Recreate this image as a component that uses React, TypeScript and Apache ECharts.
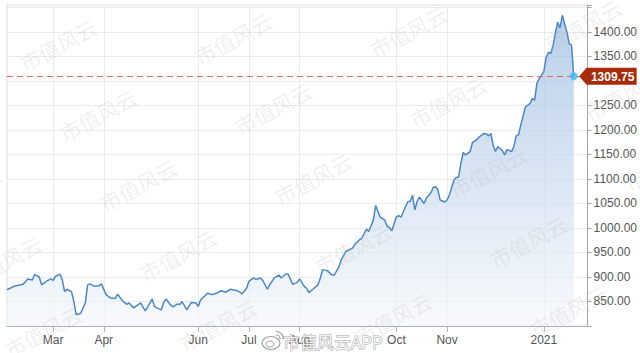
import React, { useEffect, useRef } from 'react';
import * as echarts from 'echarts';

// Trading calendar (US market) used for the category axis
const AXIS_START = '2020-01-31';
const AXIS_END = '2021-02-01';
const HOLIDAYS = ['2020-02-17', '2020-04-10', '2020-05-25', '2020-07-03', '2020-09-07', '2020-11-26', '2020-12-25', '2021-01-01', '2021-01-18'];

// Month ticks on the x axis
const monthTickDates = ['2020-03-02', '2020-04-01', '2020-06-01', '2020-07-01', '2020-08-03', '2020-10-01', '2020-11-02', '2021-01-04'];
const monthTickLabels = ['Mar', 'Apr', 'Jun', 'Jul', 'Aug', 'Oct', 'Nov', '2021'];

// Labelled y ticks (1300 sits under the last-price tag)
const yTickLabels = [850, 900, 950, 1000, 1050, 1100, 1150, 1200, 1250, 1350, 1400];

// Price series
const priceDates = [
  '2020-01-31', '2020-02-05', '2020-02-11', '2020-02-13', '2020-02-18', '2020-02-19', '2020-02-21', '2020-02-24', '2020-02-26', '2020-02-28',
  '2020-03-02', '2020-03-03', '2020-03-05', '2020-03-06', '2020-03-09', '2020-03-10', '2020-03-12', '2020-03-13', '2020-03-16', '2020-03-18', '2020-03-20', '2020-03-23', '2020-03-24', '2020-03-26', '2020-03-30', '2020-03-31',
  '2020-04-02', '2020-04-06', '2020-04-08', '2020-04-09', '2020-04-14', '2020-04-16', '2020-04-17', '2020-04-21', '2020-04-24', '2020-04-28',
  '2020-05-01', '2020-05-04', '2020-05-05', '2020-05-07', '2020-05-08', '2020-05-11', '2020-05-13', '2020-05-14', '2020-05-18', '2020-05-19', '2020-05-20', '2020-05-22', '2020-05-27', '2020-05-29',
  '2020-06-01', '2020-06-02', '2020-06-05', '2020-06-09', '2020-06-11', '2020-06-15', '2020-06-17', '2020-06-19', '2020-06-24', '2020-06-26', '2020-06-30',
  '2020-07-01', '2020-07-06', '2020-07-07', '2020-07-09', '2020-07-10', '2020-07-14', '2020-07-15', '2020-07-17', '2020-07-21', '2020-07-22', '2020-07-24', '2020-07-27', '2020-07-29', '2020-07-31',
  '2020-08-03', '2020-08-05', '2020-08-06', '2020-08-07', '2020-08-11', '2020-08-13', '2020-08-14', '2020-08-17', '2020-08-19', '2020-08-21', '2020-08-24', '2020-08-26', '2020-08-27', '2020-08-31',
  '2020-09-03', '2020-09-04', '2020-09-09', '2020-09-10', '2020-09-14', '2020-09-15', '2020-09-17', '2020-09-18', '2020-09-22', '2020-09-24', '2020-09-25', '2020-09-28', '2020-09-29',
  '2020-10-01', '2020-10-02', '2020-10-05', '2020-10-07', '2020-10-08', '2020-10-09', '2020-10-12', '2020-10-13', '2020-10-14', '2020-10-15', '2020-10-19', '2020-10-20', '2020-10-22', '2020-10-23', '2020-10-26', '2020-10-27', '2020-10-28', '2020-10-30',
  '2020-11-02', '2020-11-03', '2020-11-05', '2020-11-06', '2020-11-09', '2020-11-10', '2020-11-11', '2020-11-12', '2020-11-16', '2020-11-17', '2020-11-19', '2020-11-20', '2020-11-24', '2020-11-25', '2020-11-27', '2020-11-30',
  '2020-12-01', '2020-12-02', '2020-12-03', '2020-12-07', '2020-12-08', '2020-12-09', '2020-12-11', '2020-12-14', '2020-12-15', '2020-12-16', '2020-12-17', '2020-12-21', '2020-12-23', '2020-12-24', '2020-12-28', '2020-12-29', '2020-12-30', '2020-12-31',
  '2021-01-04', '2021-01-05', '2021-01-06', '2021-01-07', '2021-01-08', '2021-01-11', '2021-01-12', '2021-01-13', '2021-01-14', '2021-01-15', '2021-01-19', '2021-01-20', '2021-01-21', '2021-01-22',
];
const priceValues = [
  874, 881, 885, 896, 894, 905, 900, 884, 891, 896,
  893, 901, 906, 894, 870, 875, 870, 850, 823, 826, 847, 884, 886, 881, 882, 886,
  864, 857, 856, 865, 852, 844, 847, 837, 847, 831,
  855, 840, 837, 833, 848, 855, 843, 839, 845, 844, 850, 833, 848, 847,
  840, 853, 867, 864, 867, 872, 869, 875, 872, 866, 877,
  891, 898, 895, 898, 893, 875, 884, 898, 904, 898, 906, 906, 885, 889,
  896, 881, 877, 868, 876, 884, 898, 915, 913, 904, 904, 920, 934, 952,
  959, 967, 976, 979, 998, 993, 1016, 1046, 1022, 1016, 1003, 1001, 994,
  1023, 1025, 1022, 1044, 1054, 1054, 1067, 1037, 1054, 1063, 1050, 1061, 1072, 1083, 1084, 1078, 1057, 1053,
  1057, 1067, 1098, 1103, 1104, 1132, 1154, 1149, 1156, 1174, 1181, 1186, 1193, 1192, 1188, 1193,
  1169, 1156, 1166, 1158, 1149, 1160, 1156, 1166, 1188, 1190, 1210, 1247, 1254, 1264, 1261, 1295, 1305, 1312,
  1319, 1348, 1359, 1356, 1372, 1397, 1420, 1408, 1434, 1417, 1400, 1376, 1373, 1309.75,
];

const WATERMARK = '市值风云';
const WEIBO_MARK = '市值风云APP';

function tradingDays(start: string, end: string, holidays: string[]): string[] {
  const out: string[] = [];
  const d = new Date(start + 'T00:00:00Z');
  const e = new Date(end + 'T00:00:00Z');
  while (d <= e) {
    const wd = d.getUTCDay();
    const s = d.toISOString().slice(0, 10);
    if (wd !== 0 && wd !== 6 && holidays.indexOf(s) < 0) out.push(s);
    d.setUTCDate(d.getUTCDate() + 1);
  }
  return out;
}

export default function App() {
  const ref = useRef<HTMLDivElement>(null);

  useEffect(() => {
    if (!ref.current) return;
    const chart = echarts.init(ref.current, undefined, { renderer: 'svg' });
    const categories = tradingDays(AXIS_START, AXIS_END, HOLIDAYS);
    const isTick = (_i: number, v: string) => monthTickDates.indexOf(v) >= 0;
    const lastDate = priceDates[priceDates.length - 1];
    const lastValue = priceValues[priceValues.length - 1];
    const font = 'Arial, "Liberation Sans", sans-serif';

    chart.setOption({
      animation: false,
      backgroundColor: '#ffffff',
      grid: { left: 7, right: 52, top: 5, bottom: 27, show: true, borderColor: '#dedede', borderWidth: 1 },
      xAxis: {
        type: 'category',
        data: categories,
        boundaryGap: false,
        axisLine: { lineStyle: { color: '#b3b3b3' } },
        axisTick: { interval: isTick, length: 6, lineStyle: { color: '#b3b3b3' } },
        axisLabel: {
          interval: isTick,
          formatter: (v: string) => {
            const k = monthTickDates.indexOf(v);
            return k >= 0 ? monthTickLabels[k] : '';
          },
          color: '#555',
          fontSize: 12,
          margin: 8,
          fontFamily: font,
        },
        splitLine: { show: true, interval: isTick, lineStyle: { color: '#ebebeb' } },
      },
      yAxis: {
        type: 'value',
        position: 'right',
        min: 800,
        max: 1455,
        interval: 50,
        axisLine: { show: true, lineStyle: { color: '#a5a5a5' } },
        axisTick: { show: true, length: 4, lineStyle: { color: '#a5a5a5' } },
        axisLabel: {
          formatter: (v: number) => (yTickLabels.indexOf(v) >= 0 ? v.toFixed(2) : ''),
          color: '#555',
          fontSize: 12,
          margin: 6,
          fontFamily: font,
        },
        splitLine: { show: true, lineStyle: { color: '#ebebeb' } },
      },
      series: [
        {
          type: 'line',
          data: priceDates.map((d, i) => [d, priceValues[i]]),
          symbol: 'none',
          lineStyle: { color: '#4a87c7', width: 1.5 },
          areaStyle: {
            color: new echarts.graphic.LinearGradient(0, 0, 0, 1, [
              { offset: 0, color: '#9bbbe0' },
              { offset: 1, color: '#f5f8fc' },
            ]),
          },
          markLine: {
            silent: true,
            symbol: 'none',
            label: { show: false },
            lineStyle: { color: '#de6d50', type: [6, 4], width: 1.2 },
            data: [{ yAxis: lastValue }],
          },
          z: 3,
        },
        {
          type: 'scatter',
          data: [[lastDate, lastValue]],
          symbolSize: 8,
          itemStyle: { color: '#3db6f6' },
          z: 5,
        },
      ],
    });

    // Overlays placed through the chart's own scales
    const yLast = chart.convertToPixel({ yAxisIndex: 0 }, lastValue) as number;
    const xRight = chart.convertToPixel({ xAxisIndex: 0 }, AXIS_END) as number;
    const graphics: any[] = [];

    // Tiled watermark
    const rot = (28 * Math.PI) / 180;
    for (let i = -2; i <= 5; i++) {
      for (let j = -2; j <= 6; j++) {
        const cx = 58 + 175 * i + 40 * j;
        const cy = 45 - 6.7 * i + 70 * j;
        if (cx < -40 || cx > 680 || cy < -25 || cy > 380) continue;
        graphics.push({
          type: 'text',
          x: cx,
          y: cy,
          rotation: rot,
          silent: true,
          z: 50,
          style: {
            text: WATERMARK,
            fill: 'rgba(175,175,175,0.2)',
            fontSize: 21,
            fontFamily: '"Noto Sans CJK SC", sans-serif',
            align: 'center',
            verticalAlign: 'middle',
          },
        });
      }
    }

    // Weibo watermark at the bottom
    graphics.push(
      { type: 'ellipse', silent: true, z: 60, shape: { cx: 271, cy: 343, rx: 9, ry: 6.5 }, style: { fill: 'rgba(255,255,255,0.8)', stroke: 'rgba(120,120,120,0.7)', lineWidth: 1.2 } },
      { type: 'ellipse', silent: true, z: 61, shape: { cx: 270, cy: 344, rx: 4, ry: 3 }, style: { fill: 'none', stroke: 'rgba(120,120,120,0.7)', lineWidth: 1 } },
      { type: 'arc', silent: true, z: 61, shape: { cx: 276, cy: 339, r: 4, startAngle: -Math.PI / 2, endAngle: 0 }, style: { stroke: 'rgba(120,120,120,0.7)', lineWidth: 1.2, fill: 'none' } },
      { type: 'arc', silent: true, z: 61, shape: { cx: 276, cy: 339, r: 7.5, startAngle: -Math.PI / 2, endAngle: 0 }, style: { stroke: 'rgba(120,120,120,0.7)', lineWidth: 1.2, fill: 'none' } },
      {
        type: 'text',
        silent: true,
        z: 60,
        x: 283,
        y: 341,
        style: {
          text: WEIBO_MARK,
          fill: 'rgba(255,255,255,0.85)',
          stroke: 'rgba(120,120,120,0.65)',
          lineWidth: 1,
          fontSize: 17,
          fontFamily: '"Noto Sans CJK SC", sans-serif',
          align: 'left',
          verticalAlign: 'middle',
        },
      }
    );

    // Last price tag
    const tipX = xRight - 8.5;
    const boxL = xRight - 1;
    const boxR = xRight + 49;
    const h = 8.5;
    graphics.push(
      {
        type: 'polygon',
        z: 70,
        shape: { points: [[tipX, yLast], [boxL, yLast - h], [boxR, yLast - h], [boxR, yLast + h], [boxL, yLast + h]] },
        style: { fill: '#a92a08' },
      },
      {
        type: 'text',
        z: 71,
        x: (boxL + boxR) / 2 + 1,
        y: yLast + 0.5,
        style: {
          text: lastValue.toFixed(2),
          fill: '#ffffff',
          fontSize: 12,
          fontWeight: 'bold',
          fontFamily: font,
          align: 'center',
          verticalAlign: 'middle',
        },
      }
    );

    chart.setOption({ graphic: graphics });

    return () => chart.dispose();
  }, []);

  return <div ref={ref} style={{ position: 'fixed', left: 0, top: 0, width: 640, height: 353 }} />;
}
